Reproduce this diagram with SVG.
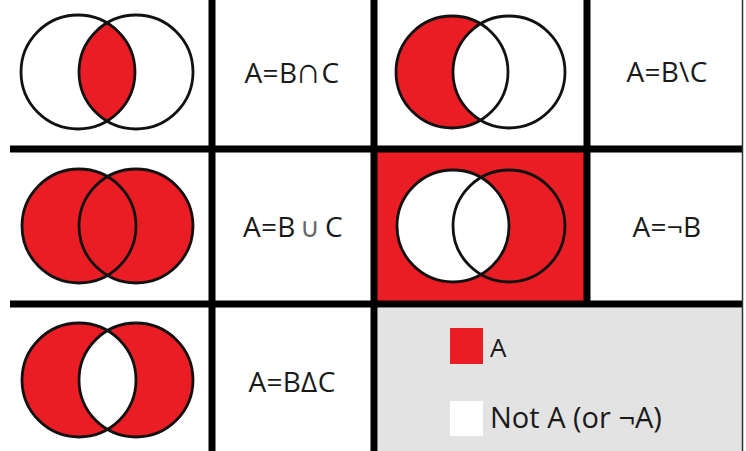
<svg xmlns="http://www.w3.org/2000/svg" width="746" height="451" viewBox="0 0 746 451">
<style>
.red{fill:#ea1d25}
.wh{fill:#ffffff}
.ring{fill:none;stroke:#111;stroke-width:2.8}
.lbl{font-family:"Open Sans","Noto Sans","DejaVu Sans",sans-serif;font-size:28px;fill:#1a1a1a;text-anchor:middle;letter-spacing:0.3px}
.grid{stroke:#000;stroke-width:7;fill:none}
.leg{font-family:"Open Sans","Noto Sans","DejaVu Sans",sans-serif;fill:#1a1a1a}
</style>
<defs>
<clipPath id="c1c"><circle cx="136" cy="72" r="57"/></clipPath>
<clipPath id="c3c"><circle cx="136" cy="380" r="57"/></clipPath>
</defs>
<rect width="746" height="451" fill="#fff"/>

<g id="cell-intersection">
<circle class="red" cx="78" cy="72" r="57" clip-path="url(#c1c)"/>
<circle class="ring" cx="78" cy="72" r="57"/>
<circle class="ring" cx="136" cy="72" r="57"/>
</g>
<g id="label-intersection"><text class="lbl" x="292" y="83">A=B<tspan dx="-2" font-family="Liberation Sans" font-size="36">∩</tspan>C</text></g>

<g id="cell-difference">
<circle class="red" cx="452" cy="72" r="56"/>
<circle class="wh" cx="509" cy="72" r="56"/>
<circle class="ring" cx="452" cy="72" r="56"/>
<circle class="ring" cx="509" cy="72" r="56"/>
</g>
<g id="label-difference"><text class="lbl" x="667" y="82">A=B\C</text></g>

<g id="cell-union">
<circle class="red" cx="79" cy="226" r="57"/>
<circle class="red" cx="136" cy="226" r="57"/>
<circle class="ring" cx="79" cy="226" r="57"/>
<circle class="ring" cx="136" cy="226" r="57"/>
</g>
<g id="label-union"><text class="lbl" x="293" y="237">A=B<tspan dx="4" fill="#666" font-family="DejaVu Sans" font-weight="200" font-size="27">∪</tspan><tspan dx="5">C</tspan></text></g>

<g id="cell-not">
<rect class="red" x="377" y="152" width="207" height="149"/>
<circle class="wh" cx="453" cy="226" r="56"/>
<circle class="ring" cx="453" cy="226" r="56"/>
<circle class="ring" cx="509" cy="226" r="56"/>
</g>
<g id="label-not"><text class="lbl" x="667" y="237">A=¬B</text></g>

<g id="cell-symdiff">
<circle class="red" cx="79" cy="380" r="57"/>
<circle class="red" cx="136" cy="380" r="57"/>
<circle class="wh" cx="79" cy="380" r="57" clip-path="url(#c3c)"/>
<circle class="ring" cx="79" cy="380" r="57"/>
<circle class="ring" cx="136" cy="380" r="57"/>
</g>
<g id="label-symdiff"><text class="lbl" x="292" y="392">A=BΔC</text></g>

<g id="legend">
<rect x="378" y="308" width="364" height="143" fill="#e3e3e3"/>
<rect x="450" y="328" width="33" height="36" class="red"/>
<text class="leg" x="490" y="357" font-size="26">A</text>
<rect x="450" y="401" width="33" height="35" class="wh"/>
<text class="leg" x="490" y="428" font-size="29">Not A (or ¬A)</text>
</g>

<g id="connectors" class="grid">
<line x1="212" y1="0" x2="212" y2="451"/>
<line x1="374" y1="0" x2="374" y2="451"/>
<line x1="587" y1="0" x2="587" y2="305"/>
<line x1="10" y1="149" x2="742" y2="149"/>
<line x1="10" y1="304" x2="742" y2="304"/>
<line x1="742.5" y1="0" x2="742.5" y2="451" stroke-width="1.5" stroke="#333"/>
</g>
</svg>
